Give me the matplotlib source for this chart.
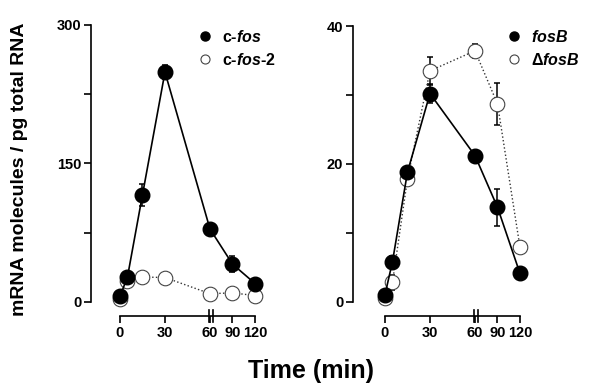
import numpy as np
import matplotlib
matplotlib.use("Agg")
import matplotlib.pyplot as plt
from matplotlib.ticker import FixedLocator

plt.rcParams['font.family'] = ['Liberation Sans', 'DejaVu Sans']
plt.rcParams['font.weight'] = 'bold'
plt.rcParams['mathtext.fontset'] = 'custom'
plt.rcParams['mathtext.rm'] = 'Liberation Sans:bold'
plt.rcParams['mathtext.it'] = 'Liberation Sans:bold:italic'
plt.rcParams['mathtext.sf'] = 'Liberation Sans'

# time points (min)
time = [0, 5, 15, 30, 60, 90, 120]

# left panel
cfos = [6, 27, 116, 249, 79, 41, 20]
cfos_err = [1, 2, 12, 8, 2, 9, 2]
cfos2 = [3.7, 22.5, 27, 26.5, 9, 9.8, 7]
cfos2_err = [0.5, 1, 1, 1, 1, 1, 1]

# right panel
fosb = [1.0, 5.8, 18.8, 30.2, 21.2, 13.7, 4.1]
fosb_err = [0.4, 0.8, 0.4, 1.4, 0.4, 2.7, 0.3]
dfosb = [0.6, 2.8, 17.8, 33.5, 36.4, 28.7, 7.9]
dfosb_err = [0.3, 1.1, 0.4, 2.0, 1.0, 3.0, 0.9]

xticks = [0, 30, 60, 90, 120]


def fwd(t):
    t = np.asarray(t, dtype=float)
    return np.where(t <= 60, t, 60 + (t - 60) * 0.5)


def inv(u):
    u = np.asarray(u, dtype=float)
    return np.where(u <= 60, u, 60 + (u - 60) * 2.0)


def setup(ax, xl, ymin, ymax, major, minor):
    ax.set_xscale('function', functions=(fwd, inv))
    ax.set_xlim(xl, 124)
    ax.set_ylim(ymin, ymax)
    for s in ['top', 'right']:
        ax.spines[s].set_visible(False)
    ax.spines['left'].set_bounds(0, ymax)
    ax.spines['bottom'].set_bounds(0, 120)
    for s in ['left', 'bottom']:
        ax.spines[s].set_linewidth(1.2)
    ax.xaxis.set_major_locator(FixedLocator(xticks))
    ax.xaxis.set_minor_locator(FixedLocator([]))
    ax.yaxis.set_major_locator(FixedLocator(major))
    ax.yaxis.set_minor_locator(FixedLocator(minor))
    ax.tick_params(axis='both', which='both', width=1.2, length=5,
                   labelsize=10.5, pad=2)
    # axis break marks at 60
    tr = ax.get_xaxis_transform()
    for xb in [59.3, 64.0]:
        ax.plot([xb, xb], [-0.02, 0.02], transform=tr, color='black',
                lw=1.2, clip_on=False)


def draw(ax, y, err, filled, ls, lw, label):
    ax.errorbar(time, y, yerr=err, fmt='none', ecolor='black',
                elinewidth=1.1, capsize=2.5, capthick=1.1, zorder=2,
                clip_on=False)
    if filled:
        ax.plot(time, y, ls=ls, lw=lw, color='black', marker='o',
                markersize=10.5, markerfacecolor='black',
                markeredgecolor='black', zorder=3, clip_on=False,
                label=label)
    else:
        ax.plot(time, y, ls=ls, lw=lw, color='#333333', marker='o',
                markersize=10.5, markerfacecolor='white',
                markeredgecolor='#444444', markeredgewidth=0.8,
                zorder=3, clip_on=False, label=label)


fig = plt.figure(figsize=(6, 3.92), dpi=100)
H = 392.0
ax1 = fig.add_axes([91 / 600, (H - 316) / H, 167 / 600, 291 / H])
ax2 = fig.add_axes([353 / 600, (H - 316) / H, 170 / 600, 290 / H])

setup(ax1, -19.3, -15.2, 300, [0, 150, 300], [75, 225])
setup(ax2, -21.3, -2.07, 40, [0, 20, 40], [10, 30])

draw(ax1, cfos2, cfos2_err, False, ':', 1.0, r'c-$\it{fos}$-2')
draw(ax1, cfos, cfos_err, True, '-', 1.2, r'c-$\it{fos}$')
draw(ax2, dfosb, dfosb_err, False, ':', 1.0, r'$\mathsf{\Delta}\it{fosB}$')
draw(ax2, fosb, fosb_err, True, '-', 1.2, r'$\it{fosB}$')

for ax, xpos in [(ax1, 197), (ax2, 506)]:
    h, l = ax.get_legend_handles_labels()
    leg = ax.legend(h[::-1], l[::-1], loc='upper left',
                    bbox_to_anchor=(xpos / 600, 1 - 29 / H),
                    bbox_transform=fig.transFigure, frameon=False,
                    fontsize=11.5, handlelength=1.0, handletextpad=0.55,
                    labelspacing=0.42, borderpad=0, borderaxespad=0,
                    markerscale=0.62)
    for line in leg.get_lines():
        line.set_linestyle('none')

fig.text(20 / 600, 1 - 169 / H, 'mRNA molecules / pg total RNA',
         rotation=90, ha='center', va='center', fontsize=14,
         fontweight='bold')
fig.text(311 / 600, 1 - 371 / H, 'Time (min)', ha='center', va='center',
         fontsize=18, fontweight='bold')

fig.savefig('out.png', dpi=100)
